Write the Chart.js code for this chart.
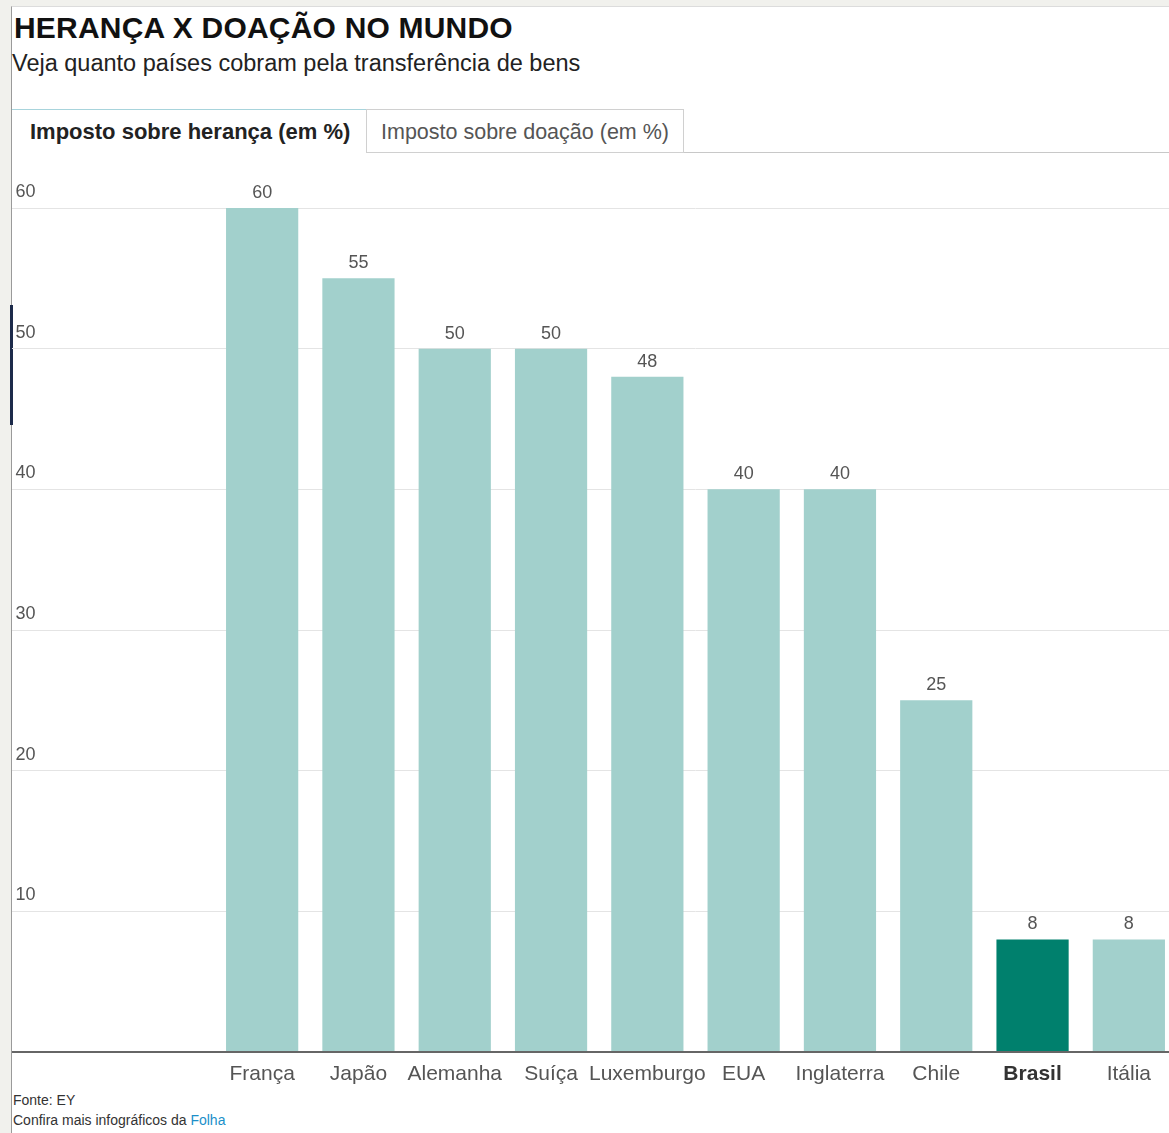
<!DOCTYPE html>
<html>
<head>
<meta charset="utf-8">
<script src="https://cdn.jsdelivr.net/npm/chart.js@4/dist/chart.umd.min.js"></script>
<style>
    html, body { margin: 0; padding: 0; }
    body { width: 1169px; height: 1133px; overflow: hidden; background: #f1f1ed; position: relative; font-family: "Liberation Sans", Arial, sans-serif; }
    #frame { position: absolute; left: 11px; top: 6px; width: 1200px; height: 1140px; background: #fff; border-left: 1px solid #9a9a9a; border-top: 1px solid #dcdcdc; }
    #scrollmark { position: absolute; left: 10px; top: 305px; width: 3px; height: 120px; background: #1c2a4a; }
    h1 { position: absolute; left: 14px; top: 11px; margin: 0; font-size: 30px; font-weight: 900; color: #111; letter-spacing: 0.2px; }
    .sub { position: absolute; left: 12px; top: 50px; font-size: 23.5px; color: #222; }
    .tab { position: absolute; top: 109px; height: 44px; line-height: 44px; box-sizing: border-box; }
    #tab1 { left: 12px; width: 355px; padding-left: 18px; font-size: 22px; font-weight: bold; color: #222; border-top: 1px solid #a8d4dc; }
    #tab2 { left: 366px; width: 318px; padding-left: 14px; font-size: 21.5px; color: #555; border: 1px solid #d0d0d0; }
    #tabline { position: absolute; left: 684px; top: 152px; width: 500px; height: 0; border-top: 1px solid #c8c8c8; }
    #chart-wrap { position: absolute; left: 12px; top: 170px; width: 1165px; height: 916px; }
    .foot { position: absolute; left: 13px; font-size: 14px; color: #333; }
    .foot span { color: #1b8fc9; }
</style>
</head>
<body>
<div id="frame"></div>
<div id="scrollmark"></div>
<h1>HERANÇA X DOAÇÃO NO MUNDO</h1>
<div class="sub">Veja quanto países cobram pela transferência de bens</div>
<div class="tab" id="tab1">Imposto sobre herança (em %)</div>
<div class="tab" id="tab2">Imposto sobre doação (em %)</div>
<div id="tabline"></div>
<div id="chart-wrap"><canvas id="taxChart"></canvas></div>
<div class="foot" style="top: 1092px;">Fonte: EY</div>
<div class="foot" style="top: 1112px;">Confira mais infográficos da <span>Folha</span></div>

<script>
const countries = ['França', 'Japão', 'Alemanha', 'Suíça', 'Luxemburgo', 'EUA', 'Inglaterra', 'Chile', 'Brasil', 'Itália'];
const inheritanceTax = [60, 55, 50, 50, 48, 40, 40, 25, 8, 8];
const yTicks = [0, 10, 20, 30, 40, 50, 60];
const highlight = 'Brasil';

const barColor = '#a2d0cc';
const highlightColor = '#00806d';
const textColor = '#555';
const fontFamily = '"Liberation Sans", Arial, sans-serif';

const valueLabels = {
    id: 'valueLabels',
    afterDatasetsDraw(chart) {
        const ctx = chart.ctx;
        const meta = chart.getDatasetMeta(0);
        ctx.save();
        ctx.font = '18px ' + fontFamily;
        ctx.fillStyle = textColor;
        ctx.textAlign = 'center';
        ctx.textBaseline = 'bottom';
        meta.data.forEach((bar, i) => {
            ctx.fillText(inheritanceTax[i], bar.x, bar.y - 6);
        });
        ctx.restore();
    }
};

const yAxisWidth = 202;

new Chart(document.getElementById('taxChart').getContext('2d'), {
    type: 'bar',
    data: {
        labels: countries,
        datasets: [{
            data: inheritanceTax,
            backgroundColor: countries.map(c => c === highlight ? highlightColor : barColor),
            borderWidth: 0,
            barPercentage: 0.75,
            categoryPercentage: 1
        }]
    },
    options: {
        responsive: true, maintainAspectRatio: false,
        animation: false,
        layout: { padding: { top: 38, right: 0, left: 0, bottom: 0 } },
        scales: {
            y: {
                min: 0, max: 60,
                afterBuildTicks: (scale) => { scale.ticks = yTicks.map(v => ({ value: v })); },
                afterFit: (scale) => { scale.width = yAxisWidth; },
                border: { display: false },
                grid: {
                    color: (c) => c.tick && c.tick.value === 0 ? '#666' : '#e4e4e4',
                    lineWidth: (c) => c.tick && c.tick.value === 0 ? 2 : 1,
                    tickLength: yAxisWidth,
                    tickColor: (c) => c.tick && c.tick.value === 0 ? '#666' : '#e4e4e4',
                    tickWidth: (c) => c.tick && c.tick.value === 0 ? 2 : 1
                },
                ticks: {
                    crossAlign: 'far',
                    labelOffset: -16,
                    padding: 0,
                    color: textColor,
                    font: { size: 18, family: fontFamily },
                    // small leading space keeps the labels off the frame line
                    callback: (v) => v === 0 ? '' : '\u2009' + v
                }
            },
            x: {
                afterFit: (scale) => { scale.height = 34; },
                border: { display: false },
                grid: { display: false, drawTicks: false },
                ticks: {
                    padding: 10,
                    maxRotation: 0,
                    autoSkip: false,
                    color: (c) => countries[c.index] === highlight ? '#333' : textColor,
                    font: (c) => ({
                        size: 21,
                        family: fontFamily,
                        weight: countries[c.index] === highlight ? 'bold' : 'normal'
                    })
                }
            }
        },
        plugins: {
            legend: { display: false },
            tooltip: { enabled: false }
        }
    },
    plugins: [valueLabels]
});
</script>
</body>
</html>
